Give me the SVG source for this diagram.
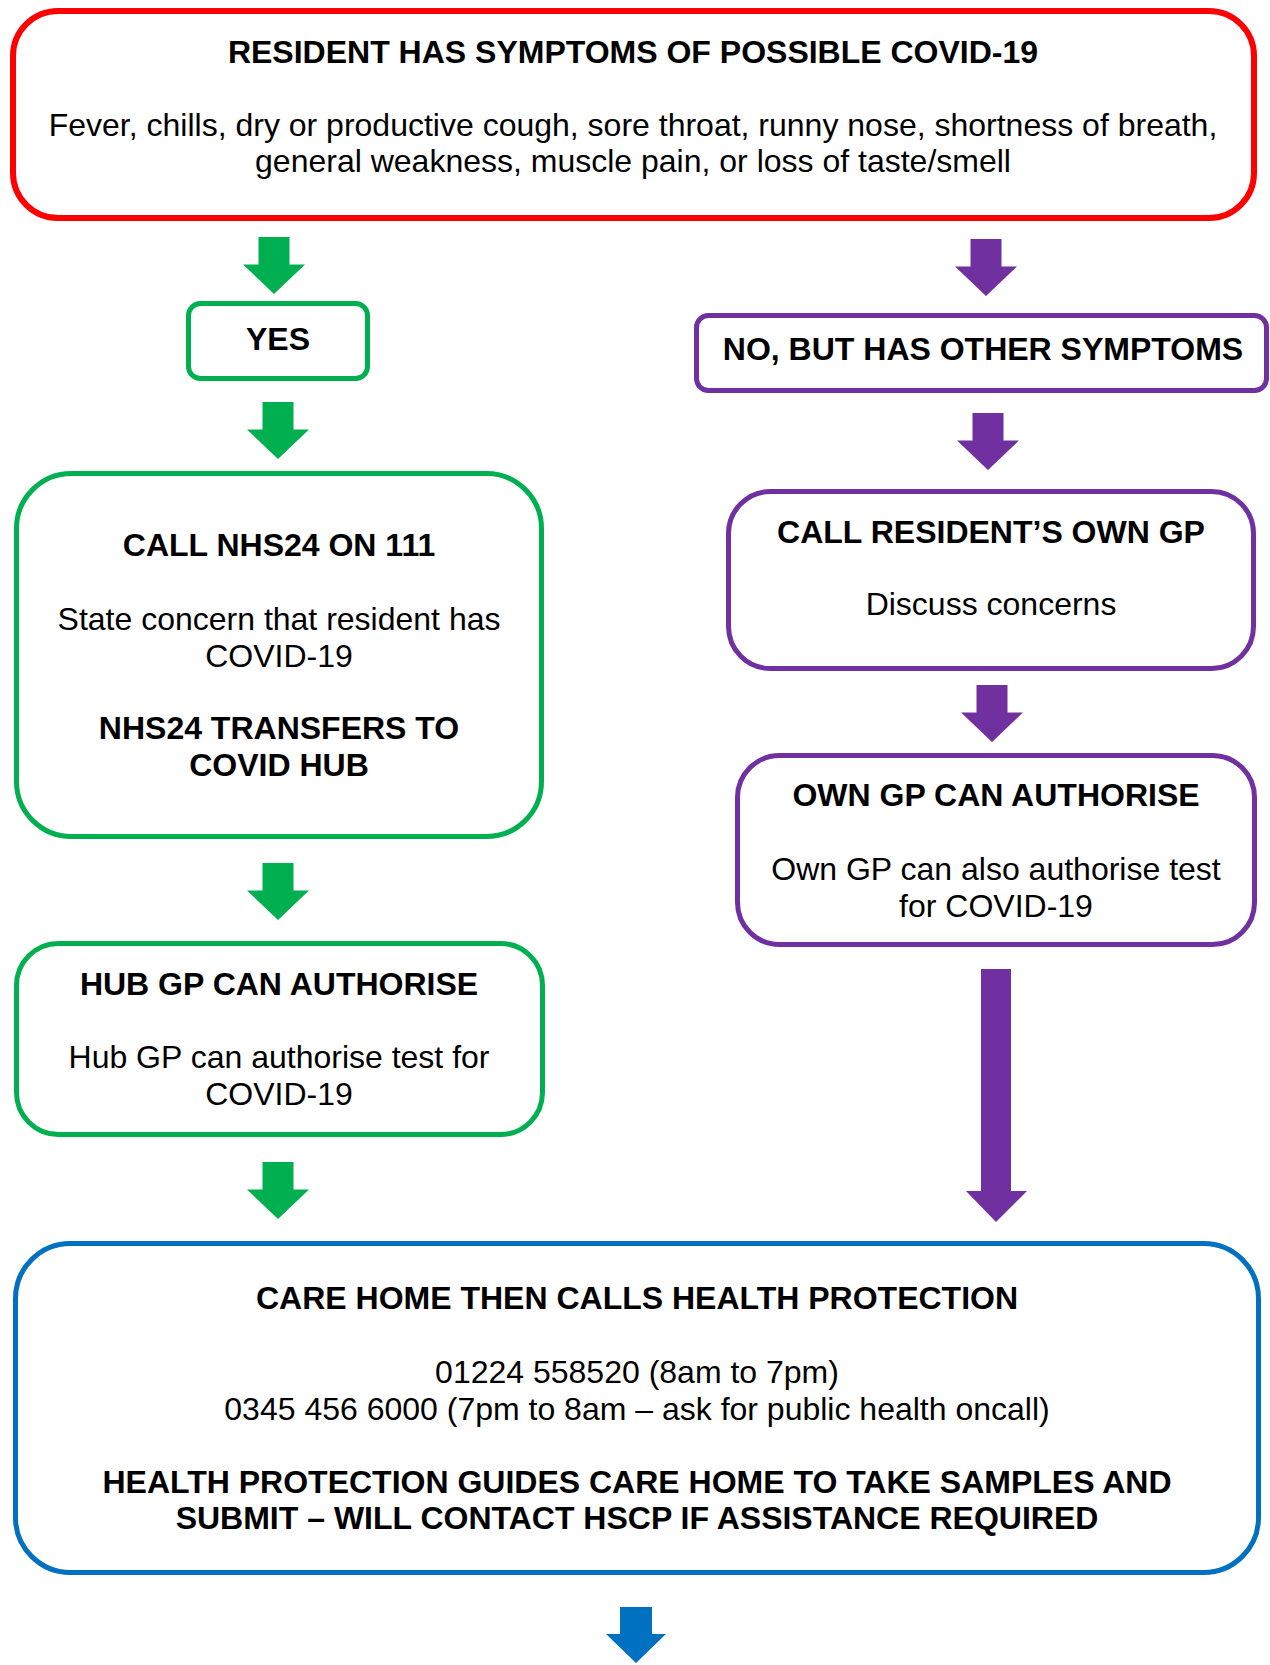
<svg xmlns="http://www.w3.org/2000/svg" xmlns:xlink="http://www.w3.org/1999/xlink" width="1270" height="1665" viewBox="0 0 1270 1665">
<style>
  .box{fill:#fff;stroke-width:5}
  .red{stroke:#FF0000;stroke-width:6}
  .grn{stroke:#00B050}
  .pur{stroke:#7030A0}
  .blu{stroke:#0070C0}
  text{font-family:"Liberation Sans",Arial,sans-serif;font-size:32px;fill:#000;text-anchor:middle}
  .b{font-weight:bold}
</style>
<defs>
  <path id="arr" d="M-15.5,0 H15.5 V27.5 H31 L0,57 L-31,27.5 H-15.5 Z"/>
</defs>
<rect width="1270" height="1665" fill="#fff"/>

<g id="connectors">
  <use xlink:href="#arr" href="#arr" x="274" y="237" fill="#00B050"/>
  <use xlink:href="#arr" href="#arr" x="986" y="239" fill="#7030A0"/>
  <use xlink:href="#arr" href="#arr" x="278" y="402" fill="#00B050"/>
  <use xlink:href="#arr" href="#arr" x="988" y="413" fill="#7030A0"/>
  <use xlink:href="#arr" href="#arr" x="992" y="685" fill="#7030A0"/>
  <use xlink:href="#arr" href="#arr" x="278" y="863" fill="#00B050"/>
  <use xlink:href="#arr" href="#arr" x="278" y="1162" fill="#00B050"/>
  <path d="M981,969 H1011 V1191 H1027 L996,1222 L966,1191 H981 Z" fill="#7030A0"/>
  <path d="M620,1607 H652 V1634 H666 L636,1663 L606,1634 H620 Z" fill="#0070C0"/>
</g>

<g id="node-symptoms">
  <rect class="box red" x="13" y="11" width="1241" height="207" rx="45"/>
  <text class="b" x="633" y="63">RESIDENT HAS SYMPTOMS OF POSSIBLE COVID-19</text>
  <text x="633" y="136">Fever, chills, dry or productive cough, sore throat, runny nose, shortness of breath,</text>
  <text x="633" y="172">general weakness, muscle pain, or loss of taste/smell</text>
</g>

<g id="node-yes">
  <rect class="box grn" x="188.5" y="303.5" width="179" height="75" rx="12"/>
  <text class="b" x="278" y="350">YES</text>
</g>

<g id="node-no">
  <rect class="box pur" x="696.5" y="315.5" width="570" height="75" rx="12"/>
  <text class="b" x="983" y="360">NO, BUT HAS OTHER SYMPTOMS</text>
</g>

<g id="node-nhs24">
  <rect class="box grn" x="16.5" y="473.5" width="525" height="363" rx="55"/>
  <text class="b" x="279" y="556">CALL NHS24 ON 111</text>
  <text x="279" y="630">State concern that resident has</text>
  <text x="279" y="667">COVID-19</text>
  <text class="b" x="279" y="739">NHS24 TRANSFERS TO</text>
  <text class="b" x="279" y="776">COVID HUB</text>
</g>

<g id="node-own-gp">
  <rect class="box pur" x="728.5" y="491.5" width="525" height="177" rx="42"/>
  <text class="b" x="991" y="543">CALL RESIDENT’S OWN GP</text>
  <text x="991" y="615">Discuss concerns</text>
</g>

<g id="node-own-gp-authorise">
  <rect class="box pur" x="737.5" y="755.5" width="517" height="189" rx="42"/>
  <text class="b" x="996" y="806">OWN GP CAN AUTHORISE</text>
  <text x="996" y="880">Own GP can also authorise test</text>
  <text x="996" y="917">for COVID-19</text>
</g>

<g id="node-hub-gp">
  <rect class="box grn" x="16.5" y="943.5" width="526" height="191" rx="42"/>
  <text class="b" x="279" y="995">HUB GP CAN AUTHORISE</text>
  <text x="279" y="1068">Hub GP can authorise test for</text>
  <text x="279" y="1105">COVID-19</text>
</g>

<g id="node-health-protection">
  <rect class="box blu" x="15.5" y="1243.5" width="1243" height="329" rx="55"/>
  <text class="b" x="637" y="1309">CARE HOME THEN CALLS HEALTH PROTECTION</text>
  <text x="637" y="1383">01224 558520 (8am to 7pm)</text>
  <text x="637" y="1420">0345 456 6000 (7pm to 8am – ask for public health oncall)</text>
  <text class="b" x="637" y="1493">HEALTH PROTECTION GUIDES CARE HOME TO TAKE SAMPLES AND</text>
  <text class="b" x="637" y="1529">SUBMIT – WILL CONTACT HSCP IF ASSISTANCE REQUIRED</text>
</g>
</svg>
